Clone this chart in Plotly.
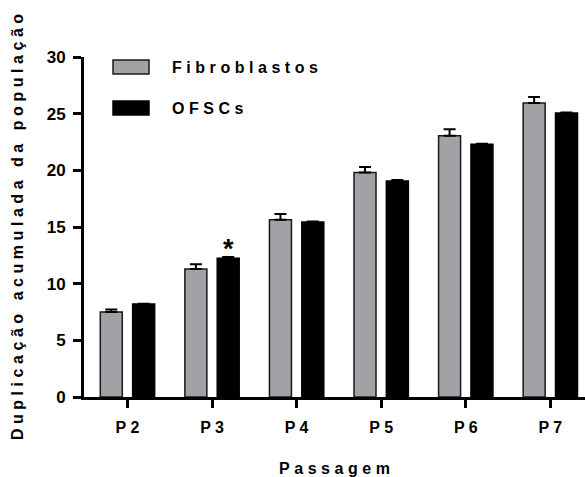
import plotly.graph_objects as go

categories = ["P2", "P3", "P4", "P5", "P6", "P7"]
tick_labels = ["P 2", "P 3", "P 4", "P 5", "P 6", "P 7"]
fibro_vals = [7.5, 11.3, 15.65, 19.8, 23.05, 25.95]
fibro_err = [0.22, 0.42, 0.5, 0.5, 0.58, 0.52]
ofsc_vals = [8.2, 12.25, 15.45, 19.05, 22.3, 25.05]
ofsc_err = [0.03, 0.1, 0.03, 0.1, 0.05, 0.05]
series_names = ["Fibroblastos", "OFSCs"]
star_index = 1

def spaced(s, sep="\u2009\u200a"):
    return sep.join(s)

FONT = "Liberation Sans, Arial, sans-serif"
GRAY = "#a2a2a6"

fig = go.Figure()
fig.add_trace(go.Bar(
    x=categories, y=fibro_vals, name=series_names[0],
    marker=dict(color=GRAY, line=dict(color="#1a1a1a", width=1.5)),
    error_y=dict(type="data", array=fibro_err, arrayminus=[0]*len(fibro_err),
                 symmetric=False, color="black", thickness=2, width=6),
))
fig.add_trace(go.Bar(
    x=categories, y=ofsc_vals, name=series_names[1],
    marker=dict(color="black", line=dict(color="black", width=1.5)),
    error_y=dict(type="data", array=ofsc_err, arrayminus=[0]*len(ofsc_err),
                 symmetric=False, color="black", thickness=2, width=6),
))

# asterisk over OFSCs at P3
fig.add_annotation(x=star_index, y=ofsc_vals[star_index] + ofsc_err[star_index],
                   xref="x", yref="y", text="*", showarrow=False,
                   xshift=16, yanchor="bottom", yshift=-9,
                   font=dict(family=FONT, size=27, color="black", weight="bold"))

# legend drawn manually
legend_items = [(GRAY, "#1a1a1a", 1 - 10 / 340), ("black", "black", 1 - 51 / 340)]
for (fill, line, ypos), name in zip(legend_items, series_names):
    fig.add_shape(type="rect", xref="paper", yref="paper",
                  x0=(113 - 84) / 501, x1=(149 - 84) / 501,
                  y0=ypos - 7 / 340, y1=ypos + 7 / 340,
                  fillcolor=fill, line=dict(color=line, width=1.5))
    fig.add_annotation(xref="paper", yref="paper", x=(170 - 84) / 501, y=ypos,
                       xanchor="left", yanchor="middle", showarrow=False,
                       text=spaced(name),
                       font=dict(family=FONT, size=16, color="black", weight="bold"))

fig.update_layout(
    width=585, height=477,
    margin=dict(l=84, r=0, t=57, b=80),
    paper_bgcolor="white", plot_bgcolor="white",
    barmode="group", bargap=0.235, bargroupgap=0.32,
    showlegend=False,
    font=dict(family=FONT, color="black"),
)
fig.update_xaxes(
    type="category", range=[-0.514, 5.41],
    tickvals=categories, ticktext=tick_labels,
    showline=True, linecolor="black", linewidth=3,
    ticks="outside", ticklen=8, tickwidth=3, tickcolor="black",
    ticklabelstandoff=6,
    tickfont=dict(family=FONT, size=16, color="black", weight="bold"),
    showgrid=False, zeroline=False,
    title=dict(text=spaced("Passagem"), standoff=30,
               font=dict(family=FONT, size=16, color="black", weight="bold")),
)
fig.update_yaxes(
    range=[0, 30], tickvals=[0, 5, 10, 15, 20, 25, 30],
    showline=True, linecolor="black", linewidth=3,
    ticks="outside", ticklen=8, tickwidth=3, tickcolor="black",
    ticklabelstandoff=4,
    tickfont=dict(family=FONT, size=17, color="black", weight="bold"),
    showgrid=False, zeroline=False,
    title=dict(text=spaced("Duplicação acumulada da população"), standoff=20,
               font=dict(family=FONT, size=16, color="black", weight="bold")),
)

fig.write_html("out.html")
